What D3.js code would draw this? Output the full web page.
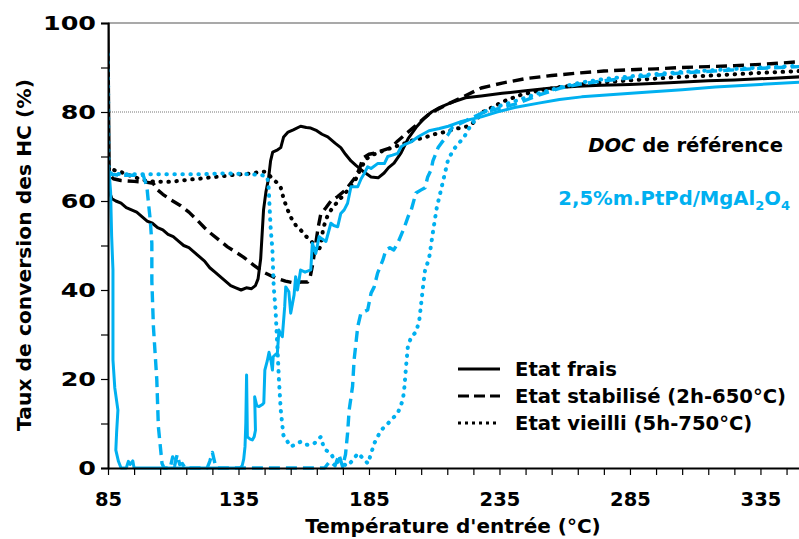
<!DOCTYPE html>
<html>
<head>
<meta charset="utf-8">
<script src="https://cdn.jsdelivr.net/npm/d3@7"></script>
<style>
  html, body { margin: 0; padding: 0; background: #fff; }
  svg { display: block; }
  text { font-family: "DejaVu Sans", Verdana, sans-serif; font-weight: bold; }
</style>
</head>
<body>
<svg id="chart" width="799" height="539"></svg>
<script>
// ---------- DATA ----------
const xTickLabels = [85, 135, 185, 235, 285, 335];
const yTickLabels = [0, 20, 40, 60, 80, 100];
const legendLabels = ["Etat frais", "Etat stabilisé (2h-650°C)", "Etat vieilli (5h-750°C)"];

// DOC de référence (black)
const docFrais = [[85,100],[85.3,80],[85.6,62],[86.5,60.5],[88,60],[90,59.5],[92,58.5],[94,58],[96,57.5],[98,56.5],[100,55.5],[102,55],[104,54],[106,53.5],[108,52.5],[110,52],[112,51],[114,50],[116,49.5],[118,48.5],[120,47.5],[122,46.5],[124,45],[126,44],[128,43],[130,42],[132,41],[134,40.5],[136,40],[138,40.5],[140,40.3],[141.5,41],[142.5,42.5],[143.5,47],[144.6,58],[145.5,62],[146.5,65],[147.3,69],[148.1,71],[150,71.5],[151.2,72],[152.3,74.4],[154,75.5],[156,76],[158.8,76.8],[161,76.5],[162.7,76.4],[165,75.8],[167,75],[169.2,74.4],[172,73],[174.2,72],[176,70.5],[178.1,69],[180,68],[183.1,66.5],[185.8,65.4],[188.5,65.2],[190.8,66.3],[192.5,67.5],[194.6,68.5],[197.3,70.8],[200,74],[203,76.5],[206,78.5],[209,80],[212,81],[216,82],[222,83.2],[228,83.6],[236,84.2],[245,84.8],[255,85.4],[265,85.8],[274,86],[285,86.2],[300,86.6],[315,87],[325,87.2],[340,87.6],[350,87.9]];
const docStab = [[85,69],[85.5,66],[87,65],[90,64.6],[95,64.4],[100,64.2],[102.3,64],[104,62.5],[106,61.5],[109,60.3],[112.7,59],[116,57.5],[119.2,55.7],[122,54],[124.2,52.8],[127,51.5],[130.8,49.7],[134,48.5],[136.9,47.4],[140.8,45.6],[144.6,44],[149.2,42.7],[153,42],[156.2,41.6],[159,41.8],[161.5,41.8],[162.5,43],[163.5,46],[164.5,50],[165.5,54],[166.5,57],[168.5,58.5],[170.4,60],[173,61],[176,62.5],[178,64],[180,65.5],[181.5,67.5],[182.7,69.7],[185,70.5],[187.7,70.8],[190,71.3],[193.5,72],[196,73.5],[199,75],[202,76.5],[205,78],[208,79.5],[211,80.5],[216,82],[221,83.4],[228,85.4],[236,86.5],[245,87.5],[255,88.2],[266,88.8],[275,89.2],[285,89.5],[295,89.7],[305,90],[315,90.2],[325,90.4],[335,90.7],[343,91],[350,91.3]];
const docVieilli = [[85,68],[86,67.3],[88,66.8],[90,66.5],[93,65.8],[96,65.2],[100,64.5],[104,64.3],[108,64.3],[112,64.5],[116,64.8],[120,65],[124,65.3],[128,65.5],[132,65.8],[136,66],[140,66.2],[143,66.5],[145,66.6],[146.2,66.2],[148,65],[150,64],[151.2,63],[152.3,60.5],[153.5,58.5],[155,56.4],[157,54.5],[158.8,53.5],[161,52],[162.7,51.2],[164,50],[165.4,48.5],[166.5,50],[167.5,54],[169,56.5],[171,58.5],[174,60.5],[177,62.5],[180,65],[182,67.5],[184,69.5],[187,70.5],[190,71.2],[194,72],[198,72.8],[202,73.7],[206,74.2],[210,75],[214,75.5],[218,76.2],[223,76.8],[226,78],[228,79.8],[232,81],[237,82.5],[243,83.8],[250,84.8],[258,85.6],[268,86.3],[280,86.9],[292,87.4],[305,87.9],[320,88.3],[335,88.8],[350,89.2]];

// 2,5%m.PtPd/MgAl2O4 (blue)
const ptFrais = [[85,68],[85.5,66],[86,62],[86.4,52],[86.9,44.5],[86.9,40.7],[86.9,24.3],[87.6,18],[88.8,13],[88.3,8],[88,4],[89,1.5],[90,0],[92,0],[92.8,1.5],[93.5,0.8],[94.5,1.6],[95,0],[100,0],[120,0],[135.5,0],[136.4,0.5],[137,2],[137.5,4.8],[137.8,10],[138.1,20.9],[138.3,12],[138.4,7],[139.5,6.5],[140.3,6.3],[141,7],[141.5,8.5],[141.2,16],[142,14],[142.8,13.8],[144,14.2],[144.7,14.6],[145.1,22],[146,24],[146.7,26],[147.5,24],[148,22],[148.3,25],[149.2,25.5],[149.9,25.8],[150.5,31],[151.2,30],[151.8,29.5],[152.7,36.2],[153.1,40.7],[154.3,39.6],[155,34.8],[155.7,37],[156.3,38.9],[156.9,43],[157.6,40],[158.8,44.5],[160.5,44],[162.7,44.5],[163.3,50.5],[164.6,48.2],[165.9,52],[167,51.5],[168.5,50.9],[170.4,55],[171.5,54.5],[173,54.2],[174.2,57.2],[175.5,58],[176.8,59.5],[178.1,63.2],[180.7,63.2],[182,65],[183.2,66.2],[184.5,67.7],[185.8,67.3],[188.3,68.4],[190.9,68.4],[192.2,70],[194,70.3],[196,70.7],[197.3,72.2],[199,72.8],[201.2,73.3],[204,74.5],[208,75.8],[212,76.3],[215.4,76.8],[220,77.8],[228.1,78.9],[234,80],[240.8,81],[250,82],[258,82.8],[266.5,83.4],[280,84],[292.3,84.5],[305,85],[317.7,85.6],[335,86.2],[350,86.7]];
const ptStab = [[85,66.5],[86,66],[90,65.8],[95,65.8],[98.5,65.8],[99.9,63.2],[100.6,59],[101.2,55.7],[101.8,50.5],[101.8,42],[102.4,31.8],[103.7,19.8],[104.3,9.3],[105.7,1],[106.5,0],[108.8,0],[109.8,2.5],[110.5,0.5],[111.5,3],[112.5,0.8],[113.5,1],[114.5,0],[123,0],[124,1.5],[125,3.5],[126,1],[127,0],[168,0],[170,1.5],[172,0.5],[173.5,3],[174.9,0.3],[176,3],[176.8,7.8],[177.4,13],[178.7,18.3],[179.3,24.3],[180,28],[180.7,31.8],[181.9,34.8],[184.5,35.5],[185.8,39.3],[187,40.7],[188.3,43.8],[190.3,46.7],[191.5,49],[193,49.5],[194.5,49],[196,50.5],[198.5,54],[200,56.5],[201.2,58],[203,61.8],[205,62.5],[206.5,63],[207.5,65.4],[208.8,67],[209.5,69],[211.5,72],[212.7,73],[215.4,75],[217,76.6],[222,78],[229.2,80],[235,80.8],[242.3,82],[250,83.8],[258,85.3],[266,86.3],[275,87],[290,88],[305,88.8],[320,89.3],[335,89.8],[350,90.2]];
const ptVieilli = [[85,93],[85.2,68],[85.5,66.3],[90,66],[100,66],[110,66],[120,66],[130,66.2],[140,66],[144,65.8],[146,65.5],[146.5,63.6],[147.3,54.2],[148,49],[148.5,40.7],[149.2,35.5],[149.9,27.3],[150.5,19.8],[151.2,13],[152.2,7.4],[155,4.8],[158.8,5.9],[161,5.2],[164,5.5],[166.5,7],[167.5,5],[168.5,4],[170.4,3.3],[171.7,1.8],[174.2,1],[177,0.5],[180.8,3.3],[183,2],[184.6,1],[187,5.5],[189.6,8.5],[191.5,9.5],[193.5,10.8],[196,12.3],[198,15.3],[198.6,18.3],[199.2,22.8],[199.9,27.3],[201.2,29.5],[203.1,30.6],[204.3,33.3],[205,37],[205.7,40.7],[206.5,44.5],[208,47],[209.5,53],[211,58.6],[212,61],[213,63.5],[214,66],[215.4,69.5],[218,72],[221.5,74.4],[224,77],[226,78.5],[229,80],[232,80.8],[235.8,81.5],[242.3,82.7],[250,84.2],[258,85.5],[266,86.6],[275,87.4],[290,88.3],[305,89],[320,89.5],[335,90],[350,90.4]];

// ---------- CHART ----------
const BLACK = "#000000", BLUE = "#00B0F0";
const DOT = "0.5,7.5";
const svg = d3.select("#chart");
const x = d3.scaleLinear().domain([85, 350]).range([108, 799.6]);
const y = d3.scaleLinear().domain([0, 100]).range([468, 23]);

// top frame line
svg.append("line").attr("x1", 108).attr("x2", 799).attr("y1", y(100)).attr("y2", y(100))
  .attr("stroke", "#555").attr("stroke-width", 1.2);
// gridline at 80
svg.append("line").attr("x1", 108).attr("x2", 799).attr("y1", y(80)).attr("y2", y(80))
  .attr("stroke", "#777").attr("stroke-width", 1).attr("stroke-dasharray", "1,1");

const series = [
  {data: docFrais, color: BLACK, dash: null},
  {data: docStab, color: BLACK, dash: "11,6"},
  {data: docVieilli, color: BLACK, dash: DOT},
  {data: ptStab, color: BLUE, dash: "11,6"},
  {data: ptVieilli, color: BLUE, dash: DOT},
  {data: ptFrais, color: BLUE, dash: null}
];
const line = d3.line().x(d => x(d[0])).y(d => y(d[1]));
svg.append("defs").append("clipPath").attr("id", "clip")
  .append("rect").attr("x", 108).attr("y", 20).attr("width", 692).attr("height", 450);
const g = svg.append("g").attr("clip-path", "url(#clip)");
series.forEach(s => {
  g.append("path").datum(s.data).attr("d", line)
    .attr("fill", "none").attr("stroke", s.color)
    .attr("stroke-width", s.dash === DOT ? 4 : (s.dash ? 3.4 : 3))
    .attr("stroke-linejoin", "round")
    .attr("stroke-linecap", s.dash === DOT ? "round" : "butt")
    .attr("stroke-dasharray", s.dash);
});

// axes
const yAxis = d3.axisLeft(y).tickValues(d3.range(0, 101, 10)).tickSize(7)
  .tickFormat(d => yTickLabels.includes(d) ? d : "");
const gy = svg.append("g").attr("transform", "translate(108,0)").call(yAxis);
gy.select(".domain").attr("stroke", "#000").attr("stroke-width", 2);
gy.selectAll(".tick line").attr("stroke", "#000").attr("stroke-width", 1.2);
gy.selectAll(".tick text").attr("font-size", 20).attr("fill", "#000")
  .attr("x", -12 / 1.27).attr("transform", "scale(1.27,1)")
  .attr("font-family", "'DejaVu Sans', Verdana, sans-serif").attr("font-weight", "bold");

const xAxis = d3.axisBottom(x).tickValues(d3.range(85, 351, 10)).tickSize(7).tickSizeOuter(0)
  .tickFormat(d => xTickLabels.includes(d) ? d : "");
const gx = svg.append("g").attr("transform", "translate(0,468)").call(xAxis);
gx.select(".domain").attr("stroke", "#000").attr("stroke-width", 2);
gx.selectAll(".tick line").attr("stroke", "#000").attr("stroke-width", 1.2);
gx.selectAll(".tick text").attr("font-size", 19.5).attr("fill", "#000").attr("y", 24)
  .attr("font-family", "'DejaVu Sans', Verdana, sans-serif").attr("font-weight", "bold");

// axis titles
svg.append("text").attr("x", 453).attr("y", 533).attr("text-anchor", "middle")
  .attr("font-size", 20).text("Température d'entrée (°C)");
svg.append("text").attr("transform", "translate(31,255) rotate(-90)").attr("text-anchor", "middle")
  .attr("font-size", 20.3).text("Taux de conversion des HC (%)");

// annotations
const t1 = svg.append("text").attr("x", 783).attr("y", 152).attr("text-anchor", "end").attr("font-size", 19.6);
t1.append("tspan").attr("font-style", "italic").text("DOC");
t1.append("tspan").text(" de référence");
const t2 = svg.append("text").attr("x", 790).attr("y", 205).attr("text-anchor", "end")
  .attr("font-size", 19.6).attr("fill", BLUE);
t2.append("tspan").text("2,5%m.PtPd/MgAl");
t2.append("tspan").attr("font-size", 13).attr("dy", 5).text("2");
t2.append("tspan").attr("dy", -5).text("O");
t2.append("tspan").attr("font-size", 13).attr("dy", 5).text("4");

// legend
const legDash = [null, "11,5", "3,4"];
legendLabels.forEach((lab, i) => {
  const yy = 369 + i * 27;
  svg.append("line").attr("x1", 458).attr("x2", 500).attr("y1", yy).attr("y2", yy)
    .attr("stroke", "#000").attr("stroke-width", 3).attr("stroke-dasharray", legDash[i]);
  svg.append("text").attr("x", 515).attr("y", yy + 7).attr("font-size", 19.6).text(lab);
});
</script>
</body>
</html>
